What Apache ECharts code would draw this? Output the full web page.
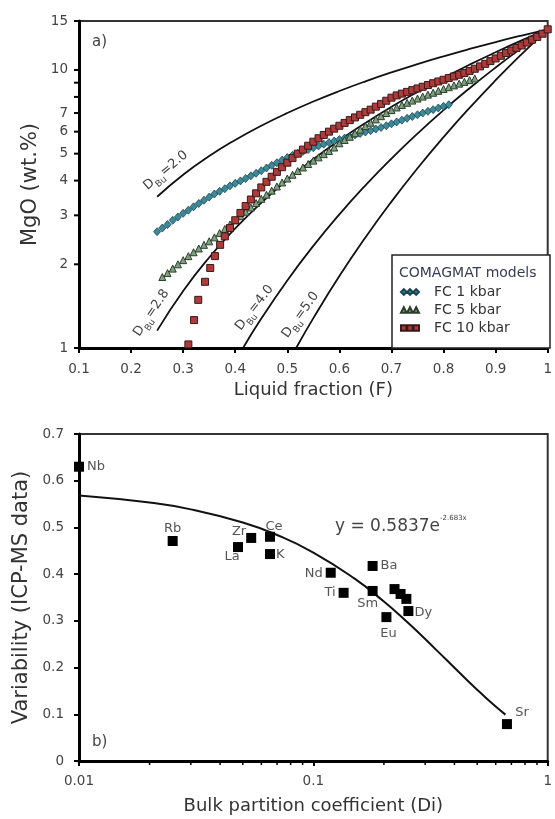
<!DOCTYPE html>
<html><head><meta charset="utf-8">
<script src="https://cdn.jsdelivr.net/npm/echarts@6/dist/echarts.min.js"></script>
<style>html,body{margin:0;padding:0;background:#fff}#c{width:555px;height:819px}</style>
</head><body><div id="c"></div>
<script>
// ---------- Panel a) : Rayleigh model curves (Liquid fraction F vs MgO wt.%) ----------
const d20F = [0.25,0.3,0.35,0.4,0.45,0.5,0.55,0.6,0.65,0.7,0.75,0.8,0.85,0.9,0.95,1];
const d20C = [3.5,4.2,4.9,5.6,6.3,7.0,7.7,8.4,9.1,9.8,10.5,11.2,11.9,12.6,13.3,14];
const d28F = [0.25,0.3,0.35,0.4,0.45,0.5,0.55,0.6,0.65,0.7,0.75,0.8,0.85,0.9,0.95,1];
const d28C = [1.155,1.603,2.116,2.691,3.327,4.021,4.773,5.582,6.447,7.368,8.341,9.369,10.45,11.58,12.77,14];
const d40F = [0.415,0.45,0.5,0.55,0.6,0.65,0.7,0.75,0.8,0.85,0.9,0.95,1];
const d40C = [1.0,1.276,1.75,2.329,3.024,3.845,4.802,5.906,7.168,8.598,10.206,12.003,14];
const d50F = [0.517,0.55,0.6,0.65,0.7,0.75,0.8,0.85,0.9,0.95,1];
const d50C = [1.0,1.281,1.814,2.499,3.361,4.430,5.734,7.308,9.185,11.403,14];

// COMAGMAT models
const fc1F = [0.25,0.26,0.27,0.28,0.29,0.30,0.31,0.32,0.33,0.34,0.35,0.36,0.37,0.38,0.39,0.40,0.41,0.42,0.43,0.44,0.45,0.46,0.47,0.48,0.49,0.50,0.51,0.52,0.53,0.54,0.55,0.56,0.57,0.58,0.59,0.60,0.61,0.62,0.63,0.64,0.65,0.66,0.67,0.68,0.69,0.70,0.71,0.72,0.73,0.74,0.75,0.76,0.77,0.78,0.79,0.80,0.81];
const fc1C = [2.62,2.70,2.78,2.88,2.96,3.05,3.13,3.22,3.31,3.40,3.49,3.58,3.66,3.74,3.83,3.91,3.99,4.07,4.16,4.25,4.34,4.44,4.54,4.64,4.74,4.84,4.93,5.01,5.09,5.17,5.25,5.33,5.41,5.48,5.55,5.62,5.69,5.76,5.84,5.91,5.98,6.05,6.13,6.21,6.30,6.40,6.50,6.60,6.70,6.80,6.90,7.00,7.10,7.20,7.30,7.40,7.50];
const fc5F = [0.26,0.27,0.28,0.29,0.30,0.31,0.32,0.33,0.34,0.35,0.36,0.37,0.38,0.39,0.40,0.41,0.42,0.43,0.44,0.45,0.46,0.47,0.48,0.49,0.50,0.51,0.52,0.53,0.54,0.55,0.56,0.57,0.58,0.59,0.60,0.61,0.62,0.63,0.64,0.65,0.66,0.67,0.68,0.69,0.70,0.71,0.72,0.73,0.74,0.75,0.76,0.77,0.78,0.79,0.80,0.81,0.82,0.83,0.84,0.85,0.86];
const fc5C = [1.80,1.86,1.93,2.00,2.07,2.14,2.21,2.28,2.35,2.42,2.50,2.59,2.68,2.78,2.88,2.98,3.09,3.20,3.32,3.44,3.56,3.68,3.81,3.94,4.07,4.20,4.33,4.46,4.59,4.72,4.85,4.98,5.11,5.26,5.45,5.60,5.75,5.92,6.10,6.28,6.46,6.64,6.82,7.00,7.17,7.33,7.48,7.62,7.76,7.89,8.02,8.15,8.28,8.41,8.54,8.67,8.80,8.93,9.06,9.19,9.32];
const fc10F = [0.310,0.321,0.329,0.342,0.352,0.361,0.371,0.380,0.39,0.40,0.41,0.42,0.43,0.44,0.45,0.46,0.47,0.48,0.49,0.50,0.51,0.52,0.53,0.54,0.55,0.56,0.57,0.58,0.59,0.60,0.61,0.62,0.63,0.64,0.65,0.66,0.67,0.68,0.69,0.70,0.71,0.72,0.73,0.74,0.75,0.76,0.77,0.78,0.79,0.80,0.81,0.82,0.83,0.84,0.85,0.86,0.87,0.88,0.89,0.90,0.91,0.92,0.93,0.94,0.95,0.96,0.97,0.98,0.99,1.00];
const fc10C = [1.03,1.26,1.49,1.73,1.94,2.14,2.35,2.52,2.70,2.88,3.06,3.24,3.42,3.60,3.78,3.96,4.13,4.30,4.47,4.64,4.82,5.00,5.17,5.34,5.52,5.68,5.84,6.00,6.15,6.30,6.45,6.60,6.75,6.90,7.05,7.20,7.38,7.55,7.75,7.95,8.10,8.22,8.34,8.46,8.58,8.70,8.83,8.96,9.09,9.22,9.35,9.48,9.61,9.75,9.92,10.10,10.30,10.52,10.76,11.00,11.25,11.50,11.75,12.00,12.25,12.55,12.85,13.15,13.50,14.0];

const topYTickValues = [1,2,3,4,5,6,7,8,9,10,15];
const topYLabelValues = [1,2,3,4,5,6,7,10,15];

// ---------- Panel b) : Bulk partition coefficient vs variability ----------
const elements = ['Nb','Rb','La','Zr','Ce','K','Nd','Ti','Ba','Sm','','','','Dy','Eu','Sr'];
const bulkD = [0.010,0.0251,0.0477,0.0543,0.0653,0.0653,0.1186,0.1346,0.179,0.179,0.222,0.2356,0.2494,0.2544,0.205,0.670];
const variability = [0.630,0.471,0.458,0.4775,0.480,0.443,0.403,0.360,0.4175,0.364,0.368,0.3576,0.347,0.321,0.308,0.079];
const fitX = [0.01,0.02,0.03,0.05,0.07,0.1,0.15,0.2,0.25,0.3,0.35,0.4,0.45,0.5,0.55,0.6,0.66];
const fitY = [0.5683,0.5532,0.5386,0.5104,0.4838,0.4463,0.3903,0.3413,0.2985,0.2610,0.2282,0.1996,0.1745,0.1526,0.1334,0.1167,0.0993];
const bottomXMinor = [0.02,0.03,0.04,0.05,0.06,0.07,0.08,0.09,0.2,0.3,0.4,0.5,0.6,0.7,0.8,0.9];

// label placement (style only)
const labelPlace = [
  ['right',0,0],['top',0,2],['bottom',-6,-5],['left',3,-6],['top',4,4],['right',-2,1],
  ['left',0,1],['left',0,0],['right',0,0],['bottom',-5,-2],[null],[null],[null],
  ['right',-2,2],['bottom',2,2],['top',15,3]
];

const FONT = 'DejaVu Sans, Verdana, sans-serif';
const zip = (a, b) => a.map((v, i) => [v, b[i]]);
const chart = echarts.init(document.getElementById('c'), null, {renderer: 'canvas'});

const curveStyle = {color: '#111', width: 1.8};
function curve(name, xs, ys) {
  return {name, type: 'line', xAxisIndex: 0, yAxisIndex: 0, data: zip(xs, ys), smooth: true,
    symbol: 'none', lineStyle: curveStyle, z: 2, silent: true};
}

const scatterData = elements.map((el, i) => {
  const p = labelPlace[i];
  return {name: el, value: [bulkD[i], variability[i]],
    label: p[0] ? {show: true, position: p[0], offset: [p[1], p[2]]} : {show: false}};
});

const axisLine = {show: true, lineStyle: {color: '#000', width: 3}};
const axisTick = {show: true, inside: false, length: 5, lineStyle: {color: '#000', width: 2}};
const axisLabel = {color: '#444', fontSize: 13.5, fontFamily: FONT};
const hNameStyle = {fontSize: 18, color: '#333', fontFamily: FONT};
const vNameStyle = {fontSize: 21, color: '#333', fontFamily: FONT};

const option = {
  animation: false,
  backgroundColor: '#fff',
  grid: [
    {left: 79, top: 21, width: 472, height: 327, show: true, borderColor: '#333', borderWidth: 2, backgroundColor: 'transparent'},
    {left: 79, top: 434, width: 471, height: 327, show: true, borderColor: '#333', borderWidth: 2, backgroundColor: 'transparent'}
  ],
  xAxis: [
    {type: 'value', gridIndex: 0, min: 0.1, max: 1, interval: 0.1,
      axisLine, axisTick, axisLabel: Object.assign({margin: 14}, axisLabel), splitLine: {show: false},
      name: 'Liquid fraction (F)', nameLocation: 'middle', nameGap: 33, nameTextStyle: hNameStyle},
    {type: 'log', logBase: 10, gridIndex: 1, min: 0.01, max: 1,
      axisLine, axisTick, axisLabel: Object.assign({margin: 13}, axisLabel), splitLine: {show: false},
      minorTick: {show: false}, minorSplitLine: {show: false},
      name: 'Bulk partition coefficient (Di)', nameLocation: 'middle', nameGap: 36, nameTextStyle: hNameStyle}
  ],
  yAxis: [
    {type: 'log', logBase: 10, gridIndex: 0, min: 1, max: 15,
      axisLine, axisTick: {show: false}, axisLabel: {show: false}, splitLine: {show: false},
      name: 'MgO (wt.%)', nameLocation: 'middle', nameGap: 38, nameTextStyle: vNameStyle},
    {type: 'value', gridIndex: 1, min: 0, max: 0.7, interval: 0.1,
      axisLine, axisTick, axisLabel: Object.assign({margin: 15}, axisLabel), splitLine: {show: false},
      name: 'Variability (ICP-MS data)', nameLocation: 'middle', nameGap: 38, nameTextStyle: vNameStyle}
  ],
  legend: {
    left: 395, top: 279, padding: 5, orient: 'vertical', itemGap: 2, itemWidth: 18, itemHeight: 6,
    textStyle: {fontSize: 14, color: '#333', fontFamily: FONT, lineHeight: 16, padding: [0, 0, 0, 10]},
    selectedMode: false,
    data: [
      {name: 'FC 1 kbar', icon: 'path://M0,5L5,0L10,5L5,10Z M11,5L16,0L21,5L16,10Z M22,5L27,0L32,5L27,10Z'},
      {name: 'FC 5 kbar', icon: 'path://M0,10L5,0L10,10Z M11,10L16,0L21,10Z M22,10L27,0L32,10Z'},
      {name: 'FC 10 kbar', icon: 'path://M0,0H9.5V10H0Z M11,0H20.5V10H11Z M22,0H31.5V10H22Z'}
    ]
  },
  series: [
    curve('D2.0', d20F, d20C),
    curve('D2.8', d28F, d28C),
    curve('D4.0', d40F, d40C),
    curve('D5.0', d50F, d50C),
    {name: 'FC 1 kbar', type: 'scatter', xAxisIndex: 0, yAxisIndex: 0, data: zip(fc1F, fc1C),
      symbol: 'diamond', symbolSize: [7, 8], z: 3,
      itemStyle: {color: '#3a8a9a', borderColor: '#1d4550', borderWidth: 0.8, opacity: 1}},
    {name: 'FC 5 kbar', type: 'scatter', xAxisIndex: 0, yAxisIndex: 0, data: zip(fc5F, fc5C),
      symbol: 'triangle', symbolSize: 7, z: 4,
      itemStyle: {color: '#7f9f80', borderColor: '#2a3f2a', borderWidth: 1, opacity: 1}},
    {name: 'FC 10 kbar', type: 'scatter', xAxisIndex: 0, yAxisIndex: 0, data: zip(fc10F, fc10C),
      symbol: 'rect', symbolSize: 7, z: 5,
      itemStyle: {color: '#ad3b3b', borderColor: '#3a1818', borderWidth: 1, opacity: 1}},
    {name: 'fit', type: 'line', xAxisIndex: 1, yAxisIndex: 1, data: zip(fitX, fitY), smooth: true,
      symbol: 'none', lineStyle: {color: '#111', width: 2}, z: 2, silent: true},
    {name: 'elements', type: 'scatter', xAxisIndex: 1, yAxisIndex: 1, data: scatterData,
      symbol: 'rect', symbolSize: 10, clip: false, z: 3,
      itemStyle: {color: '#000', opacity: 1},
      label: {formatter: '{b}', color: '#555', fontSize: 13, fontFamily: FONT, distance: 3}}
  ]
};
chart.setOption(option);

// ---------- annotations, custom log ticks ----------
const g = [];
topYTickValues.forEach(v => {
  const y = chart.convertToPixel({yAxisIndex: 0}, v);
  g.push({type: 'line', shape: {x1: 74, y1: y, x2: 79, y2: y}, style: {stroke: '#000', lineWidth: 2}, z: 10});
});
topYLabelValues.forEach(v => {
  const y = chart.convertToPixel({yAxisIndex: 0}, v);
  g.push({type: 'text', x: 68, y: y, style: {text: String(v), fill: '#444', font: '13.5px ' + FONT,
    textAlign: 'right', textVerticalAlign: 'middle'}, z: 10});
});
bottomXMinor.forEach(v => {
  const x = chart.convertToPixel({xAxisIndex: 1}, v);
  g.push({type: 'line', shape: {x1: x, y1: 761, x2: x, y2: 765}, style: {stroke: '#000', lineWidth: 1.5}, z: 10});
});
const dRich = {a: {fontSize: 13, fontFamily: FONT, fill: '#444', color: '#444', verticalAlign: 'top', lineHeight: 17},
               s: {fontSize: 9, fontFamily: FONT, fill: '#444', color: '#444', verticalAlign: 'bottom', lineHeight: 17}};
function dLabel(txt, x, y, deg) {
  return {type: 'text', x, y, rotation: deg * Math.PI / 180,
    style: {text: '{a|D}{s|Bu}{a|=' + txt + '}', rich: dRich, textAlign: 'center', textVerticalAlign: 'middle'}, z: 10};
}
g.push(dLabel('2.0', 167, 172, 40));
g.push(dLabel('2.8', 153, 314, 56));
g.push(dLabel('4.0', 256, 309, 52));
g.push(dLabel('5.0', 302, 316, 54));
// legend frame and title
g.push({type: 'rect', shape: {x: 392, y: 255, width: 158, height: 93}, style: {fill: '#fff', stroke: '#222', lineWidth: 1.5}, z: 1});
g.push({type: 'text', x: 399, y: 273, style: {text: 'COMAGMAT models', fill: '#3a3a55', font: '14px ' + FONT, textVerticalAlign: 'middle'}, z: 10});
// panel labels
g.push({type: 'text', x: 92, y: 42, style: {text: 'a)', fill: '#444', font: '15px ' + FONT, textVerticalAlign: 'middle'}, z: 10});
g.push({type: 'text', x: 92, y: 742, style: {text: 'b)', fill: '#444', font: '15px ' + FONT, textVerticalAlign: 'middle'}, z: 10});
// equation
g.push({type: 'text', x: 335, y: 525, style: {text: '{a|y = 0.5837e}{b|-2.683x}',
  rich: {a: {fontSize: 17, fontFamily: FONT, fill: '#444', color: '#444', verticalAlign: 'bottom', lineHeight: 20},
         b: {fontSize: 7, fontFamily: FONT, fill: '#444', color: '#444', verticalAlign: 'top', lineHeight: 20}},
  textVerticalAlign: 'middle'}, z: 10});
chart.setOption({graphic: g});
</script></body></html>
